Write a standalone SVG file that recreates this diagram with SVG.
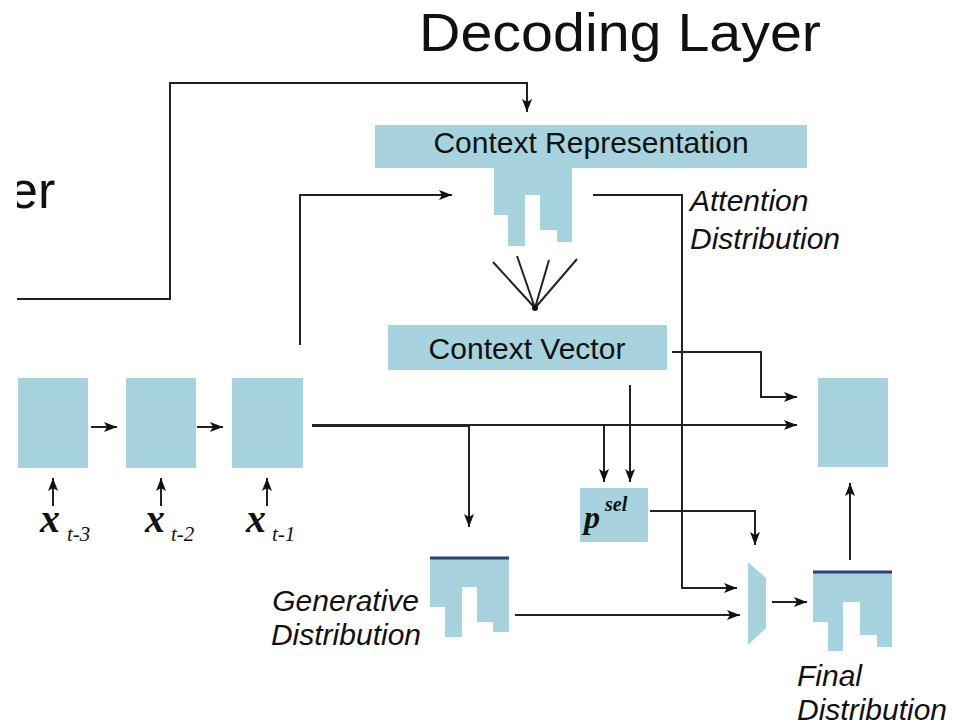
<svg xmlns="http://www.w3.org/2000/svg" width="956" height="728" viewBox="0 0 956 728">
  <style>
    .blk { fill: #a7d3df; }
    .bar { stroke: #2d3f78; stroke-width: 3; fill: none; }
    .wire { fill: none; stroke: #222; stroke-width: 2; }
    .arr { marker-end: url(#head); }
    .sans { font-family: "Liberation Sans", Arial, sans-serif; fill: #111; }
    .ital { font-family: "Liberation Sans", Arial, sans-serif; font-style: italic; font-size: 30px; fill: #111; }
    .math { font-family: "Liberation Serif", "Times New Roman", serif; font-style: italic; fill: #111; }
  </style>
  <defs>
    <marker id="head" viewBox="0 0 13 10" refX="13" refY="5" markerWidth="13" markerHeight="10" markerUnits="userSpaceOnUse" orient="auto">
      <path d="M0,0 L13,5 L0,10 L3,5 z" fill="#111"/>
    </marker>
    <clipPath id="page">
      <rect x="17" y="0" width="939" height="728"/>
    </clipPath>
  </defs>
  <rect width="956" height="728" fill="#fff"/>

  <!-- titles -->
  <text class="sans" x="419" y="51" font-size="54" textLength="402" lengthAdjust="spacingAndGlyphs">Decoding Layer</text>
  <text class="sans" x="9" y="208" font-size="52" clip-path="url(#page)">er</text>

  <!-- connectors -->
  <g id="connectors">
    <path class="wire arr" d="M17,299 H170 V83 H527 V112"/>
    <path class="wire arr" d="M300,345 V195 H452"/>
    <path class="wire arr" d="M593,195 H682 V588 H737"/>
    <path class="wire" d="M535,308 L493,262 M535,308 L517,256 M535,308 L549,260 M535,308 L577,259"/>
    <circle cx="535" cy="308" r="3" fill="#111"/>
    <path class="wire arr" d="M672,352 H761 V397 H797"/>
    <path class="wire arr" d="M630,385 V482"/>
    <path class="wire arr" d="M312,425 H797"/>
    <path class="wire" d="M312,426 H470" stroke-width="2.5"/>
    <path class="wire arr" d="M604,425 V482"/>
    <path class="wire arr" d="M469,425 V527"/>
    <path class="wire arr" d="M650,511 H755 V545"/>
    <path class="wire arr" d="M515,615 H740"/>
    <path class="wire arr" d="M772,602 H807"/>
    <path class="wire arr" d="M850,560 V483"/>
    <path class="wire arr" d="M53,506 V478"/>
    <path class="wire arr" d="M161,506 V478"/>
    <path class="wire arr" d="M267,506 V478"/>
    <path class="wire arr" d="M91,427 H117"/>
    <path class="wire arr" d="M197,427 H223"/>
  </g>

  <!-- encoder states -->
  <g id="state-t3"><rect class="blk" x="18" y="378" width="70" height="90"/></g>
  <g id="state-t2"><rect class="blk" x="126" y="378" width="70" height="90"/></g>
  <g id="state-t1"><rect class="blk" x="232" y="378" width="71" height="90"/></g>

  <!-- inputs -->
  <g id="input-t3">
    <text class="math" x="40" y="532" font-size="40" font-weight="bold">x</text>
    <text class="math" x="67" y="541" font-size="21">t-3</text>
  </g>
  <g id="input-t2">
    <text class="math" x="145" y="532" font-size="40" font-weight="bold">x</text>
    <text class="math" x="171" y="541" font-size="21">t-2</text>
  </g>
  <g id="input-t1">
    <text class="math" x="246" y="532" font-size="40" font-weight="bold">x</text>
    <text class="math" x="272" y="541" font-size="21">t-1</text>
  </g>

  <!-- context representation with attention histogram -->
  <g id="context-representation">
    <rect class="blk" x="375" y="125" width="432" height="43"/>
    <path class="blk" d="M494,168 H572 V242 H557 V230 H540 V195 H525 V246 H508 V215 H494 Z"/>
    <text class="sans" x="591" y="153" font-size="30" text-anchor="middle">Context Representation</text>
  </g>
  <g id="attention-label">
    <text class="ital" x="690" y="211">Attention</text>
    <text class="ital" x="690" y="249">Distribution</text>
  </g>

  <!-- context vector -->
  <g id="context-vector">
    <rect class="blk" x="388" y="325" width="279" height="45"/>
    <text class="sans" x="527" y="359" font-size="30" text-anchor="middle">Context Vector</text>
  </g>

  <!-- output state -->
  <g id="output-state"><rect class="blk" x="818" y="378" width="70" height="89"/></g>

  <!-- selection probability -->
  <g id="p-sel">
    <rect class="blk" x="580" y="488" width="68" height="54"/>
    <text class="math" x="584" y="528" font-size="32" font-weight="bold">p</text>
    <text class="math" x="605" y="511" font-size="20" font-weight="bold">sel</text>
  </g>

  <!-- generative distribution -->
  <g id="generative-distribution">
    <path class="blk" d="M430,558 H509 V632 H493 V622 H477 V587 H462 V637 H445 V607 H430 Z"/>
    <line class="bar" x1="430" y1="558" x2="509" y2="558"/>
    <text class="ital" x="419" y="611" text-anchor="end">Generative</text>
    <text class="ital" x="421" y="645" text-anchor="end">Distribution</text>
  </g>

  <!-- switch -->
  <g id="switch">
    <polygon class="blk" points="748,562 766,578 766,628 748,645"/>
  </g>

  <!-- final distribution -->
  <g id="final-distribution">
    <path class="blk" d="M813,572 H892 V647 H877 V635 H860 V602 H843 V651 H828 V622 H813 Z"/>
    <line class="bar" x1="813" y1="572" x2="892" y2="572"/>
    <text class="ital" x="797" y="686">Final</text>
    <text class="ital" x="797" y="720" font-size="29">Distribution</text>
  </g>
</svg>
